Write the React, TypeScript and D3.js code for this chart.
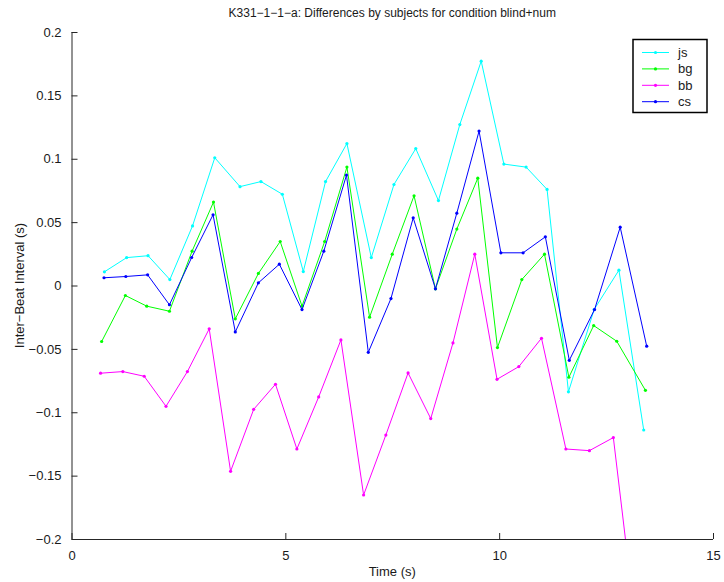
import { useEffect, useRef } from "react";
import * as d3 from "d3";

// values
const seriesNames = ["js", "bg", "bb", "cs"];
const seriesColors = ["#00ffff", "#00ff00", "#ff00ff", "#0000ff"];

const jsTime = [0.77, 1.29, 1.79, 2.3, 2.83, 3.35, 3.94, 4.43, 4.93, 5.42, 5.94, 6.44, 7.01, 7.54, 8.05, 8.58, 9.08, 9.58, 10.11, 10.63, 11.12, 11.62, 12.22, 12.8, 13.38];
const jsValue = [0.0108, 0.022, 0.0235, 0.0047, 0.047, 0.1008, 0.078, 0.082, 0.072, 0.011, 0.082, 0.112, 0.022, 0.0797, 0.108, 0.067, 0.127, 0.177, 0.0958, 0.0934, 0.0758, -0.0839, -0.019, 0.0121, -0.114];

const bgTime = [0.705, 1.26, 1.76, 2.29, 2.82, 3.32, 3.83, 4.37, 4.88, 5.39, 5.92, 6.44, 6.97, 7.5, 8.01, 8.51, 9.01, 9.5, 9.96, 10.53, 11.06, 11.63, 12.21, 12.75, 13.42];
const bgValue = [-0.0442, -0.0079, -0.0163, -0.0203, 0.0271, 0.0658, -0.0263, 0.0095, 0.0347, -0.0163, 0.0347, 0.0934, -0.025, 0.0247, 0.0708, -0.0026, 0.0445, 0.0847, -0.049, 0.0047, 0.0247, -0.0724, -0.0316, -0.044, -0.0827];

const bbTime = [0.68, 1.2, 1.7, 2.21, 2.71, 3.22, 3.72, 4.26, 4.77, 5.27, 5.78, 6.3, 6.83, 7.35, 7.87, 8.4, 8.92, 9.43, 9.95, 10.46, 10.99, 11.56, 12.11, 12.67, 13.2];
const bbValue = [-0.0692, -0.0679, -0.0716, -0.0953, -0.0679, -0.0342, -0.1466, -0.0977, -0.0779, -0.129, -0.0879, -0.0429, -0.1653, -0.118, -0.069, -0.105, -0.0453, 0.0247, -0.074, -0.064, -0.0416, -0.129, -0.1303, -0.12, -0.27];

const csTime = [0.76, 1.27, 1.78, 2.29, 2.81, 3.31, 3.83, 4.37, 4.86, 5.39, 5.9, 6.43, 6.94, 7.47, 7.99, 8.51, 9.01, 9.53, 10.04, 10.56, 11.08, 11.64, 12.23, 12.83, 13.45];
const csValue = [0.0061, 0.0071, 0.0084, -0.0152, 0.0221, 0.0558, -0.0366, 0.0021, 0.0168, -0.019, 0.0271, 0.0871, -0.0527, -0.0103, 0.0534, -0.0026, 0.0571, 0.1218, 0.0258, 0.0258, 0.0384, -0.059, -0.019, 0.046, -0.0479];

const xTicks = [0, 5, 10, 15];
const yTicks = [-0.2, -0.15, -0.1, -0.05, 0, 0.05, 0.1, 0.15, 0.2];

const title = "K331−1−1−a: Differences by subjects for condition blind+num";
const xLabel = "Time (s)";
const yLabel = "Inter−Beat Interval (s)";

export default function App() {
  const svgRef = useRef<SVGSVGElement>(null);

  useEffect(() => {
    const width = 724;
    const height = 582;
    const margin = { top: 32, right: 11, bottom: 43, left: 71.5 };
    const innerW = width - margin.left - margin.right;
    const innerH = height - margin.top - margin.bottom;

    const svg = d3.select(svgRef.current);
    svg.selectAll("*").remove();

    const x = d3.scaleLinear().domain([0, 15]).range([0, innerW]);
    const y = d3.scaleLinear().domain([-0.2, 0.2]).range([innerH, 0]);

    svg.append("defs").append("clipPath").attr("id", "plot-clip")
      .append("rect").attr("width", innerW).attr("height", innerH);

    const g = svg.append("g").attr("transform", `translate(${margin.left},${margin.top})`);
    const font = "'Liberation Sans', Arial, sans-serif";

    // axes: MATLAB style, ticks pointing inward
    const xAxis = d3.axisBottom(x).tickValues(xTicks).tickSize(-6).tickPadding(12).tickFormat(d3.format("d"));
    const yAxis = d3.axisLeft(y).tickValues(yTicks).tickSize(-6).tickPadding(10)
      .tickFormat((d) => {
        const v = +d;
        if (v === 0) return "0";
        return (v < 0 ? "−" : "") + String(Math.abs(Math.round(v * 100) / 100));
      });

    const gx = g.append("g").attr("transform", `translate(0,${innerH})`).call(xAxis);
    const gy = g.append("g").call(yAxis);
    for (const ax of [gx, gy]) {
      ax.selectAll("path,line").attr("stroke", "#262626").attr("stroke-width", 1);
      ax.selectAll("text").attr("font-family", font).attr("font-size", 13).attr("fill", "#1a1a1a");
    }
    gy.select(".domain").attr("d", `M0.5,${innerH}V0`);
    gx.select(".domain").attr("d", `M0,0.5H${innerW}`);

    const times = [jsTime, bgTime, bbTime, csTime];
    const values = [jsValue, bgValue, bbValue, csValue];

    const line = d3.line<[number, number]>().x((d) => x(d[0])).y((d) => y(d[1]));
    const plot = g.append("g").attr("clip-path", "url(#plot-clip)");

    seriesNames.forEach((name, i) => {
      const pts: [number, number][] = times[i].map((t, j) => [t, values[i][j]]);
      plot.append("path").datum(pts)
        .attr("d", line)
        .attr("fill", "none")
        .attr("stroke", seriesColors[i])
        .attr("stroke-width", 1);
      plot.selectAll(`.m-${name}`).data(pts).join("circle")
        .attr("class", `m-${name}`)
        .attr("cx", (d) => x(d[0]))
        .attr("cy", (d) => y(d[1]))
        .attr("r", 1.6)
        .attr("fill", seriesColors[i]);
    });

    // title and axis labels
    svg.append("text").attr("x", margin.left + innerW / 2).attr("y", 17)
      .attr("text-anchor", "middle").attr("font-family", font).attr("font-size", 12)
      .attr("fill", "#1a1a1a").text(title);
    svg.append("text").attr("x", margin.left + innerW / 2).attr("y", 576)
      .attr("text-anchor", "middle").attr("font-family", font).attr("font-size", 13)
      .attr("fill", "#1a1a1a").text(xLabel);
    svg.append("text").attr("transform", `translate(24,${margin.top + innerH / 2}) rotate(-90)`)
      .attr("text-anchor", "middle").attr("font-family", font).attr("font-size", 13)
      .attr("fill", "#1a1a1a").text(yLabel);

    // legend
    const lg = svg.append("g").attr("transform", "translate(633,39.5)");
    lg.append("rect").attr("width", 74).attr("height", 73)
      .attr("fill", "white").attr("stroke", "black").attr("stroke-width", 1.5);
    seriesNames.forEach((name, i) => {
      const ly = 13 + i * 16.4;
      lg.append("line").attr("x1", 9).attr("x2", 36).attr("y1", ly).attr("y2", ly)
        .attr("stroke", seriesColors[i]).attr("stroke-width", 1);
      lg.append("circle").attr("cx", 22.5).attr("cy", ly).attr("r", 1.6).attr("fill", seriesColors[i]);
      lg.append("text").attr("x", 45).attr("y", ly).attr("dy", "0.35em")
        .attr("font-family", font).attr("font-size", 13).attr("fill", "#1a1a1a").text(name);
    });
  }, []);

  return (
    <svg ref={svgRef} width={724} height={582}
      style={{ position: "absolute", left: 0, top: 0, background: "white" }} />
  );
}
